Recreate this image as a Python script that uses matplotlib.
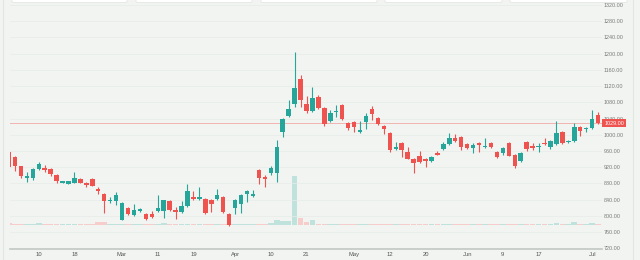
import matplotlib
matplotlib.use("Agg")
import matplotlib.pyplot as plt
from matplotlib.patches import FancyBboxPatch
from matplotlib.lines import Line2D
import numpy as np

plt.rcParams["font.family"] = ["Liberation Sans", "DejaVu Sans"]

# daily OHLC, one entry per trading session (left to right)
opens = [958, 945, 923, 894, 893, 916, 918, 916, 901, 882,
         879, 882, 891, 881, 891, 866, 854, 837, 837, 790,
         820, 802, 812, 805, 805, 812, 812, 837, 815, 810,
         824, 847, 842, 842, 839, 842, 847, 805, 820, 829,
         854, 849, 913, 896, 906, 906, 1007, 1046, 1076, 1138,
         1076, 1059, 1093, 1066, 1034, 1056, 1073, 1029, 1032, 1007,
         1032, 1064, 1041, 1022, 1004, 965, 980, 958, 940, 948,
         940, 935, 955, 965, 978, 992, 995, 978, 968, 980,
         970, 980, 958, 955, 980, 950, 935, 983, 973, 970,
         980, 970, 978, 1007, 983, 985, 1019, 1014, 1017, 1049]
highs = [960, 947, 924, 908, 918, 933, 926, 918, 903, 886,
         887, 908, 893, 883, 893, 871, 857, 847, 859, 834,
         822, 829, 820, 807, 812, 852, 840, 839, 822, 837,
         879, 861, 871, 844, 841, 866, 849, 807, 842, 854,
         864, 864, 915, 901, 923, 987, 1041, 1086, 1204, 1147,
         1096, 1118, 1098, 1068, 1061, 1073, 1076, 1032, 1034, 1034,
         1054, 1071, 1044, 1024, 1007, 983, 983, 970, 943, 960,
         943, 948, 960, 983, 1004, 1002, 997, 980, 980, 983,
         992, 983, 960, 970, 982, 952, 957, 985, 980, 980,
         992, 987, 1034, 1009, 987, 1029, 1022, 1019, 1061, 1056]
lows = [918, 911, 893, 884, 889, 914, 908, 898, 881, 880,
        878, 881, 880, 871, 873, 854, 807, 832, 827, 789,
        803, 800, 810, 790, 794, 810, 795, 813, 792, 808,
        822, 840, 840, 805, 810, 840, 808, 775, 805, 807,
        834, 847, 879, 871, 901, 884, 995, 1044, 1069, 1069,
        1054, 1056, 1064, 1022, 1032, 1044, 1037, 1012, 1007, 1005,
        1014, 1036, 1024, 1002, 958, 963, 945, 940, 906, 930,
        921, 933, 950, 963, 975, 983, 963, 965, 955, 958,
        968, 968, 943, 950, 947, 918, 933, 960, 963, 958,
        976, 965, 976, 978, 980, 983, 997, 1007, 1015, 1027]
closes = [921, 923, 898, 898, 916, 928, 913, 903, 886, 886,
          886, 893, 881, 876, 874, 861, 837, 839, 852, 832,
          805, 815, 817, 792, 797, 820, 839, 815, 810, 824,
          861, 842, 847, 807, 829, 852, 810, 778, 839, 852,
          861, 854, 893, 891, 918, 970, 1039, 1064, 1115, 1086,
          1059, 1091, 1066, 1027, 1054, 1059, 1039, 1017, 1019, 1012,
          1046, 1051, 1027, 1014, 963, 970, 963, 940, 930, 933,
          935, 945, 950, 978, 992, 985, 970, 968, 975, 975,
          973, 970, 945, 968, 948, 923, 955, 965, 968, 973,
          978, 985, 1004, 980, 985, 1019, 1009, 1017, 1039, 1029]
volumes = [2, 1.5, 1.5, 1.5, 1.5, 2, 1.5, 1.5, 1.5, 1.5,
           1.5, 1.5, 1.5, 1.5, 1.5, 3, 3, 1.5, 1.5, 1.5,
           1.5, 1.5, 1.5, 1.5, 1.5, 1.5, 2, 1.5, 1.5, 1.5,
           1.5, 1.5, 1.5, 1.5, 1.5, 1.5, 1.5, 1.5, 1.5, 1.5,
           1.5, 1.5, 1.5, 1.5, 2, 5, 4, 4, 49, 7,
           3, 5, 1.5, 1.5, 1.5, 1.5, 1.5, 1.5, 1.5, 1.5,
           1.5, 1.5, 1.5, 1.5, 1.5, 1.5, 1.5, 1.5, 1.5, 1.5,
           1.5, 1.5, 1.5, 1.5, 1.5, 1.5, 1.5, 1.5, 1.5, 1.5,
           1.5, 1.5, 1.5, 1.5, 1.5, 1.5, 1.5, 1.5, 1.5, 1.5,
           1.5, 1.5, 2, 1.5, 1.5, 3, 1.5, 1.5, 2, 1.5]

tick_idx = [5, 11, 19, 25, 31, 38, 44, 50, 58, 64, 70, 77, 83, 89, 98]
tick_labels = ["10", "18", "Mar", "11", "19", "Apr", "10", "21", "May",
               "12", "20", "Jun", "9", "17", "Jul"]
price_ticks = list(range(720, 1321, 40))
last_price = 1029.00

BG = "#F1F4F1"
UP = "#26A69A"
DOWN = "#EF5350"
UP_VOL = "#BFE3DC"
DOWN_VOL = "#F7CDCB"

W, H = 640, 260
fig = plt.figure(figsize=(W / 100, H / 100), dpi=100, facecolor=BG)

left_px, right_px, bottom_px = 10, 602, 249
xlim = (0.17, 99.66)

# volume pane sits behind the price pane
ax_vol = fig.add_axes([left_px / W, (H - 225) / H, (right_px - left_px) / W, 80 / H])
ax_vol.set_xlim(*xlim)
ax_vol.set_ylim(0, 80)
ax_vol.axis("off")

ax = fig.add_axes([left_px / W, (H - bottom_px) / H, (right_px - left_px) / W, bottom_px / H])
ax.set_facecolor("none")
ax.set_xlim(*xlim)
ax.set_ylim(718.4, 1332.4)

idx = np.arange(len(opens))
o = np.array(opens, dtype=float)
hi = np.array(highs, dtype=float)
lo = np.array(lows, dtype=float)
c = np.array(closes, dtype=float)
up = c >= o
colors = np.where(up, UP, DOWN)

vol_colors = np.where(up, UP_VOL, DOWN_VOL)
ax_vol.bar(idx, volumes, width=0.95, color=vol_colors, linewidth=0)

ax.yaxis.grid(True, color="#E8ECE8", linewidth=0.5)
ax.set_axisbelow(True)

ax.axhline(last_price, color="#F2B3B1", linewidth=0.7, zorder=1)

ax.vlines(idx, lo, hi, colors=colors, linewidth=0.8, zorder=2)
body_bottom = np.minimum(o, c)
body_height = np.maximum(np.abs(c - o), 2.5)
ax.bar(idx, body_height, bottom=body_bottom, width=0.75, color=colors,
       linewidth=0, zorder=3)

for side in ["top", "left", "right"]:
    ax.spines[side].set_visible(False)
ax.spines["bottom"].set_color("#C4C8C4")
ax.spines["bottom"].set_linewidth(1.2)

ax.set_xticks(tick_idx)
ax.set_xticklabels(tick_labels)
ax.tick_params(axis="x", length=0, pad=2.2, labelsize=4.2, labelcolor="#555555")

ax.yaxis.tick_right()
ax.set_yticks(price_ticks)
ax.set_yticklabels([f"{p:.2f}" for p in price_ticks])
ax.tick_params(axis="y", length=0, pad=1.2, labelsize=3.9, labelcolor="#7A7A7A")

# last price tag on the price scale
ax.annotate(f"{last_price:.2f}", xy=(1.0, last_price), xycoords=("axes fraction", "data"),
            xytext=(1.5, 0), textcoords="offset points", ha="left", va="center",
            fontsize=3.9, color="white",
            bbox=dict(boxstyle="square,pad=0.35", fc=DOWN, ec="none"))

# panel borders
fig.add_artist(Line2D([3 / W, 3 / W], [0, 1], color="#E2E6E2", linewidth=0.8))
fig.add_artist(Line2D([633 / W, 633 / W], [0, 1], color="#E2E6E2", linewidth=0.8))

# toolbar buttons peeking in at the top edge
for x0, x1 in [(12, 127), (136, 252), (261, 377), (385, 502), (510, 627)]:
    fig.add_artist(FancyBboxPatch((x0 / W, 1 - 2.5 / H), (x1 - x0) / W, 0.05,
                                  boxstyle="round,pad=0,rounding_size=0.004",
                                  fc="white", ec="#E0E3E0", linewidth=0.5,
                                  transform=fig.transFigure))

fig.savefig("out.png", dpi=100, facecolor=BG)
